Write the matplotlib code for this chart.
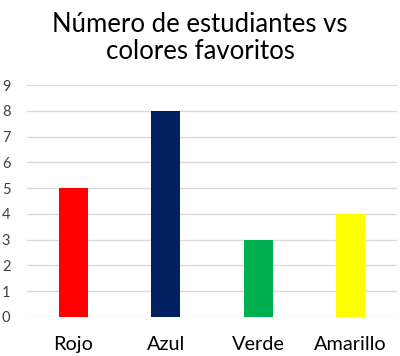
import matplotlib
matplotlib.use("Agg")
import matplotlib.pyplot as plt

categories = ["Rojo", "Azul", "Verde", "Amarillo"]
values = [5, 8, 3, 4]
colors = ["#ff0000", "#002060", "#00b050", "#ffff00"]
yticks = list(range(0, 10))

plt.rcParams['font.family'] = ['Lato', 'DejaVu Sans']

fig = plt.figure(figsize=(4.0, 3.56), dpi=100)
ax = fig.add_axes([0.0675, 0.1096, 0.925, 0.6514])
x = list(range(len(categories)))
ax.bar(x, values, width=0.31, color=colors, zorder=3)
ax.set_xlim(-0.5, len(categories) - 0.5)
ax.set_ylim(0, 9)
ax.set_yticks(yticks)
ax.set_yticklabels([str(t) for t in yticks], fontsize=10.5, color="#404040")
ax.set_xticks(x)
ax.set_xticklabels(categories, fontsize=14.3, color="#000000")
ax.yaxis.grid(True, color="#d9d9d9", linewidth=1, zorder=0)
for s in ax.spines.values():
    s.set_visible(False)
ax.tick_params(axis='both', length=0)
ax.tick_params(axis='y', pad=12)
ax.tick_params(axis='x', pad=14)
fig.text(0.5, 0.965, "Número de estudiantes vs\ncolores favoritos", ha="center", va="top",
         fontsize=18.5, color="#000000", linespacing=1.1)
fig.savefig("out.png", dpi=100)
